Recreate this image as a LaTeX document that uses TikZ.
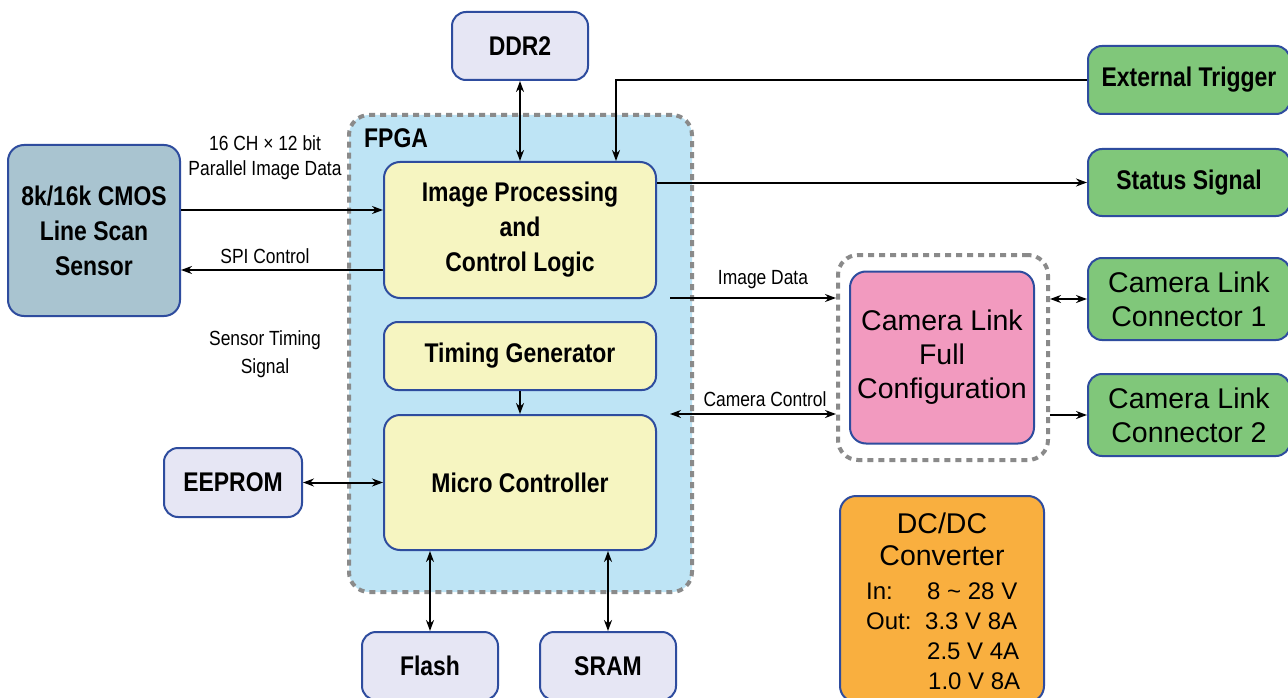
\documentclass[tikz,border=0pt]{standalone}
\usepackage{fontspec}
\setmainfont{Liberation Sans}
\newfontfamily\nar[FakeStretch=0.85]{Liberation Sans}
\usetikzlibrary{arrows.meta,calc}
\definecolor{bblue}{HTML}{2E4C9E}
\definecolor{sensfill}{HTML}{A9C4D0}
\definecolor{lav}{HTML}{E6E6F4}
\definecolor{yel}{HTML}{F6F5C1}
\definecolor{fpgablue}{HTML}{BEE4F5}
\definecolor{grn}{HTML}{80C77A}
\definecolor{pnk}{HTML}{F29ABF}
\definecolor{org}{HTML}{F9AF3F}
\definecolor{dgrey}{HTML}{8A8A8A}
\tikzset{
 box/.style={draw=bblue, line width=2pt, rounded corners=16pt, inner sep=0pt, align=center},
 blbl/.style={font=\nar\bfseries\fontsize{27}{35}\selectfont},
 rlbl/.style={font=\fontsize{28.5}{34}\selectfont},
 smalllbl/.style={font=\nar\fontsize{20.5}{28}\selectfont, inner sep=0pt},
 conn/.style={line width=2pt, -{Stealth[length=11pt,width=8pt]}},
 dconn/.style={line width=2pt, {Stealth[length=11pt,width=8pt]}-{Stealth[length=11pt,width=8pt]}},
 dashbox/.style={draw=dgrey, line width=4pt, dash pattern=on 6pt off 5pt, rounded corners=20pt, inner sep=0pt},
}
\begin{document}
\begin{tikzpicture}[x=1pt,y=-1pt]
\clip (0,0) rectangle (1288,698);
\fill[white] (0,0) rectangle (1288,698);
% FPGA region
\node[dashbox, fill=fpgablue, minimum width=343, minimum height=477] (fpga) at (520.5,353.5) {};
\node[blbl, anchor=west, inner sep=0pt] (fpgal) at (364,138) {FPGA};
% boxes
\node[box, fill=sensfill, blbl, minimum width=172, minimum height=171] (sensor) at (94,230.5) {8k/16k CMOS\\Line Scan\\Sensor};
\node[box, fill=lav, blbl, minimum width=136, minimum height=68, rounded corners=14pt] (ddr) at (520,46) {DDR2};
\node[box, fill=yel, blbl, minimum width=272, minimum height=136] (ipc) at (520,230) {Image Processing\\and\\Control Logic};
\node[box, fill=yel, blbl, minimum width=272, minimum height=68, rounded corners=14pt] (tg) at (520,356) {Timing Generator};
\node[box, fill=yel, blbl, minimum width=272, minimum height=135] (mc) at (520,482.5) {Micro Controller};
\node[box, fill=lav, blbl, minimum width=138, minimum height=69, rounded corners=14pt] (eeprom) at (233,482.5) {EEPROM};
\node[box, fill=lav, blbl, minimum width=136, minimum height=68, rounded corners=14pt] (flash) at (430,666) {Flash};
\node[box, fill=lav, blbl, minimum width=136, minimum height=68, rounded corners=14pt] (sram) at (608,666) {SRAM};
\node[box, fill=grn, blbl, minimum width=202, minimum height=68, rounded corners=14pt] (ext) at (1189,80) {External Trigger};
\node[box, fill=grn, blbl, minimum width=202, minimum height=67, rounded corners=14pt] (status) at (1189,182.5) {Status Signal};
\node[box, fill=grn, rlbl, minimum width=202, minimum height=82, rounded corners=14pt] (cl1) at (1189,299) {Camera Link\\Connector 1};
\node[box, fill=grn, rlbl, minimum width=202, minimum height=82, rounded corners=14pt] (cl2) at (1189,415) {Camera Link\\Connector 2};
\node[dashbox, minimum width=210, minimum height=205] (clfd) at (943,357.5) {};
\node[box, fill=pnk, rlbl, minimum width=184, minimum height=172] (clf) at (942,357.5) {Camera Link\\Full\\Configuration};
\node[box, fill=org, minimum width=204, minimum height=206] (dcdc) at (942,599) {};
\node[rlbl, inner sep=0pt] (dct1) at (942,523) {DC/DC};
\node[rlbl, inner sep=0pt] (dct2) at (942,556) {Converter};
\node[font=\fontsize{24}{28}\selectfont, inner sep=0pt, anchor=base west] (in1) at (866,599) {In:};
\node[font=\fontsize{24}{28}\selectfont, inner sep=0pt, anchor=base west] (in2) at (927,599) {8 \char`\~{} 28 V};
\node[font=\fontsize{24}{28}\selectfont, inner sep=0pt, anchor=base west] (out1) at (866,629) {Out:};
\node[font=\fontsize{24}{28}\selectfont, inner sep=0pt, anchor=base west] (out2) at (925,629) {3.3 V 8A};
\node[font=\fontsize{24}{28}\selectfont, inner sep=0pt, anchor=base west] (out3) at (927,659) {2.5 V 4A};
\node[font=\fontsize{24}{28}\selectfont, inner sep=0pt, anchor=base west] (out4) at (928,689) {1.0 V 8A};
% labels
\node[smalllbl] (l1) at (265,143) {16 CH × 12 bit};
\node[smalllbl] (l2) at (265,170) {Parallel Image Data};
\node[smalllbl] (l3) at (265,256) {SPI Control};
\node[smalllbl] (l4) at (265,340) {Sensor Timing};
\node[smalllbl] (l5) at (265,368) {Signal};
\node[smalllbl] (l6) at (763,280) {Image Data};
\node[smalllbl] (l7) at (765,399) {Camera Control};
% connectors
\coordinate (ids) at (670,298);
\coordinate (ccs) at (670,414);
\draw[conn] ($(sensor.east)+(0,-20.5)$) -- ($(ipc.west)+(0,-20)$);
\draw[conn] ($(ipc.west)+(0,40)$) -- ($(sensor.east)+(0,39.5)$);
\draw[dconn] (ddr.south) -- (ipc.north);
\draw[conn] (ext.west) -| ($(ipc.north)+(96,0)$);
\draw[conn] (ipc.east |- status.west) -- (status.west);
\draw[conn] (tg.south) -- (mc.north);
\draw[dconn] (eeprom.east) -- (mc.west);
\draw[dconn] (mc.south -| flash.north) -- (flash.north);
\draw[dconn] (mc.south -| sram.north) -- (sram.north);
\draw[conn] (ids) -- (ids -| clfd.west);
\draw[dconn] (ccs) -- (ccs -| clfd.west);
\draw[dconn] (clfd.east |- cl1.west) -- (cl1.west);
\draw[conn] (clfd.east |- cl2.west) -- (cl2.west);
\end{tikzpicture}
\end{document}
